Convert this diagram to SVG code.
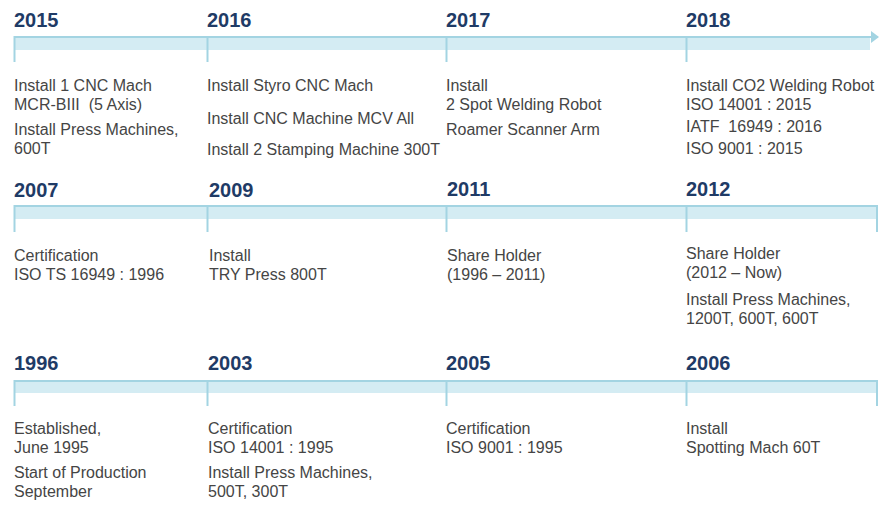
<svg xmlns="http://www.w3.org/2000/svg" width="888" height="512" viewBox="0 0 888 512">
  <style>
    .year { font-family: "Liberation Sans", Arial, sans-serif; font-size: 20px; font-weight: bold; fill: #1F3B66; }
    .txt { font-family: "Liberation Sans", Arial, sans-serif; font-size: 16px; fill: #454545; }
    .band { fill: #D4ECF3; }
    .rule { stroke: #A3D4E2; stroke-width: 2; fill: none; }
    .tick { stroke: #A3D4E2; stroke-width: 2; fill: none; }
  </style>
  <defs>
    <marker id="head" viewBox="0 0 8 12" refX="7" refY="6" markerWidth="4" markerHeight="6" orient="auto" markerUnits="strokeWidth">
      <path d="M0,0 L8,6 L0,12 Z" fill="#A3D4E2"/>
    </marker>
  </defs>

  <rect width="888" height="512" fill="#FFFFFF"/>

  <!-- timeline axes -->
  <g id="connectors">
    <!-- row 1: 2015-2018 -->
    <rect class="band" x="14" y="37" width="856" height="13"/>
    <line class="rule" x1="14" y1="37" x2="878" y2="37" marker-end="url(#head)"/>
    <line class="tick" x1="14.5" y1="36" x2="14.5" y2="62"/>
    <line class="tick" x1="207.5" y1="36" x2="207.5" y2="62"/>
    <line class="tick" x1="446.5" y1="36" x2="446.5" y2="62"/>
    <line class="tick" x1="686.5" y1="36" x2="686.5" y2="62"/>

    <!-- row 2: 2007-2012 -->
    <rect class="band" x="14" y="206" width="863" height="13"/>
    <line class="rule" x1="14" y1="206" x2="877" y2="206"/>
    <line class="tick" x1="14.5" y1="205" x2="14.5" y2="232"/>
    <line class="tick" x1="207.5" y1="205" x2="207.5" y2="232"/>
    <line class="tick" x1="446.5" y1="205" x2="446.5" y2="232"/>
    <line class="tick" x1="686.5" y1="205" x2="686.5" y2="232"/>
    <line class="tick" x1="877" y1="205" x2="877" y2="232"/>

    <!-- row 3: 1996-2006 -->
    <rect class="band" x="14" y="381" width="863" height="12"/>
    <line class="rule" x1="14" y1="381" x2="877" y2="381"/>
    <line class="tick" x1="14.5" y1="380" x2="14.5" y2="406"/>
    <line class="tick" x1="207.5" y1="380" x2="207.5" y2="406"/>
    <line class="tick" x1="446.5" y1="380" x2="446.5" y2="406"/>
    <line class="tick" x1="686.5" y1="380" x2="686.5" y2="406"/>
    <line class="tick" x1="877" y1="380" x2="877" y2="406"/>
  </g>

  <!-- row 1 -->
  <g id="y2015">
    <text class="year" x="14" y="27">2015</text>
    <text class="txt" x="14" y="91">Install 1 CNC Mach</text>
    <text class="txt" x="14" y="110">MCR-BIII&#160; (5 Axis)</text>
    <text class="txt" x="14" y="135">Install Press Machines,</text>
    <text class="txt" x="14" y="154">600T</text>
  </g>
  <g id="y2016">
    <text class="year" x="207" y="27">2016</text>
    <text class="txt" x="207" y="91">Install Styro CNC Mach</text>
    <text class="txt" x="207" y="124">Install CNC Machine MCV All</text>
    <text class="txt" x="207" y="155">Install 2 Stamping Machine 300T</text>
  </g>
  <g id="y2017">
    <text class="year" x="446" y="27">2017</text>
    <text class="txt" x="446" y="91">Install</text>
    <text class="txt" x="446" y="110">2 Spot Welding Robot</text>
    <text class="txt" x="446" y="135">Roamer Scanner Arm</text>
  </g>
  <g id="y2018">
    <text class="year" x="686" y="27">2018</text>
    <text class="txt" x="686" y="91">Install CO2 Welding Robot</text>
    <text class="txt" x="686" y="110">ISO 14001 : 2015</text>
    <text class="txt" x="686" y="132">IATF&#160; 16949 : 2016</text>
    <text class="txt" x="686" y="154">ISO 9001 : 2015</text>
  </g>

  <!-- row 2 -->
  <g id="y2007">
    <text class="year" x="14" y="197">2007</text>
    <text class="txt" x="14" y="261">Certification</text>
    <text class="txt" x="14" y="280">ISO TS 16949 : 1996</text>
  </g>
  <g id="y2009">
    <text class="year" x="209" y="197">2009</text>
    <text class="txt" x="209" y="261">Install</text>
    <text class="txt" x="209" y="280">TRY Press 800T</text>
  </g>
  <g id="y2011">
    <text class="year" x="447" y="196">2011</text>
    <text class="txt" x="447" y="261">Share Holder</text>
    <text class="txt" x="447" y="280">(1996 – 2011)</text>
  </g>
  <g id="y2012">
    <text class="year" x="686" y="196">2012</text>
    <text class="txt" x="686" y="259">Share Holder</text>
    <text class="txt" x="686" y="278">(2012 – Now)</text>
    <text class="txt" x="686" y="305">Install Press Machines,</text>
    <text class="txt" x="686" y="324">1200T, 600T, 600T</text>
  </g>

  <!-- row 3 -->
  <g id="y1996">
    <text class="year" x="14" y="370">1996</text>
    <text class="txt" x="14" y="434">Established,</text>
    <text class="txt" x="14" y="453">June 1995</text>
    <text class="txt" x="14" y="478">Start of Production</text>
    <text class="txt" x="14" y="497">September</text>
  </g>
  <g id="y2003">
    <text class="year" x="208" y="370">2003</text>
    <text class="txt" x="208" y="434">Certification</text>
    <text class="txt" x="208" y="453">ISO 14001 : 1995</text>
    <text class="txt" x="208" y="478">Install Press Machines,</text>
    <text class="txt" x="208" y="497">500T, 300T</text>
  </g>
  <g id="y2005">
    <text class="year" x="446" y="370">2005</text>
    <text class="txt" x="446" y="434">Certification</text>
    <text class="txt" x="446" y="453">ISO 9001 : 1995</text>
  </g>
  <g id="y2006">
    <text class="year" x="686" y="370">2006</text>
    <text class="txt" x="686" y="434">Install</text>
    <text class="txt" x="686" y="453">Spotting Mach 60T</text>
  </g>
</svg>
